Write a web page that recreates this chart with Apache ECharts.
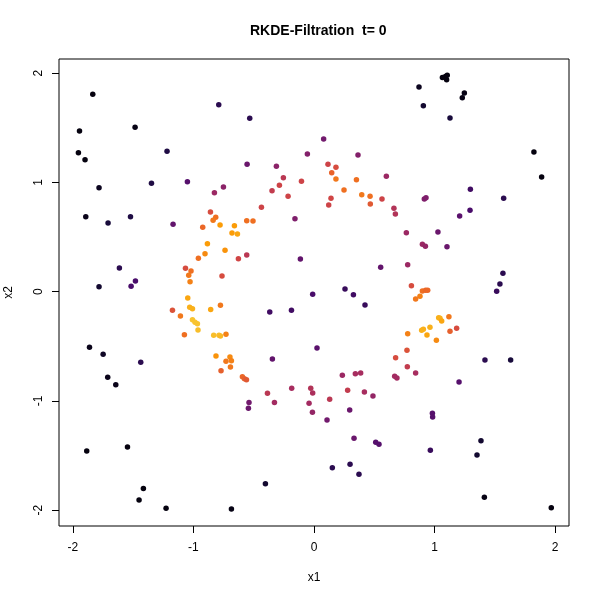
<!DOCTYPE html>
<html>
<head>
<meta charset="utf-8">
<script src="https://cdn.jsdelivr.net/npm/echarts@6/dist/echarts.min.js"></script>
<style>html,body{margin:0;padding:0;background:#fff}#c{width:600px;height:600px}</style>
</head>
<body>
<div id="c"></div>
<script>
// Point coordinates (x1, x2) and estimated density level (0..1, mapped to inferno palette)
const x1 = [
 -1.835,-0.790,-1.945,-1.484,-1.954,-1.899,-1.219,
 -0.533,0.080,-0.055,0.365,-0.555,-0.312,0.116,0.182,0.147,0.600,-0.254,-0.104,0.182,0.352,
 1.065,1.090,1.105,1.100,0.871,1.247,1.230,0.907,1.128,1.824,1.888,
 -1.783,-1.348,-1.050,-0.751,-0.826,-1.893,-1.708,-1.522,-1.169,-0.859,-0.815,-0.837,-0.923,-0.779,-0.660,-0.680,-0.884,-0.904,-0.738,-0.959,-1.614,-1.066,-1.020,-1.039,-0.763,-1.028,-1.481,-1.783,-1.517,-1.047,
 -0.287,-0.348,0.249,-0.215,0.141,0.396,0.465,0.564,0.122,0.467,0.663,0.675,-0.436,-0.158,0.766,-0.558,-0.506,-0.635,-0.627,-0.558,-0.113,0.553,0.777,-0.011,0.257,0.327,
 1.297,1.573,0.915,0.929,1.294,1.208,1.028,0.899,0.924,1.103,1.567,1.542,1.515,0.808,0.899,0.926,0.943,0.879,0.843,
 -0.776,-1.174,-1.031,-1.008,-0.857,-1.108,-1.008,-0.987,-0.967,-0.962,-1.075,-0.832,-0.788,-0.776,-0.730,-1.862,-1.749,-1.437,-1.711,-1.644,-0.813,-0.697,-0.685,-0.730,-0.693,-0.771,
 0.423,-0.367,-0.187,0.777,0.025,-0.345,0.771,0.677,0.774,-0.594,-0.577,-0.560,0.235,0.343,0.387,0.669,0.688,-0.185,-0.027,-0.011,0.279,0.418,0.489,-0.386,0.130,-0.539,-0.328,-0.041,-0.544,-0.013,0.296,0.108,
 1.034,1.045,1.059,1.119,0.893,0.907,0.962,0.937,1.128,1.183,1.015,1.418,1.631,0.843,1.203,0.982,0.984,
 -1.885,-1.547,-1.415,-1.451,-1.227,-0.685,
 0.332,0.512,0.539,0.152,0.299,0.373,-0.403,
 1.385,0.965,1.352,1.413,1.968
];
const x2 = [
 1.806,1.711,1.470,1.504,1.272,1.208,1.285,
 1.586,1.397,1.260,1.251,1.166,1.147,1.166,1.138,1.089,1.056,1.043,1.010,1.031,1.025,
 1.960,1.970,1.980,1.940,1.873,1.818,1.775,1.702,1.589,1.278,1.049,
 0.952,0.992,1.006,0.958,0.906,0.686,0.629,0.686,0.617,0.729,0.681,0.653,0.589,0.610,0.604,0.537,0.439,0.348,0.379,0.305,0.217,0.214,0.189,0.150,0.144,0.092,0.098,0.046,0.049,-0.058,
 0.973,0.924,0.930,0.873,0.854,0.888,0.873,0.848,0.793,0.802,0.763,0.711,0.772,0.668,0.540,0.650,0.647,0.528,0.302,0.336,0.299,0.223,0.247,-0.024,0.025,-0.027,
 0.937,0.854,0.848,0.860,0.745,0.693,0.546,0.434,0.415,0.412,0.168,0.070,0.004,0.055,0.006,0.013,0.013,-0.042,-0.067,
 -0.125,-0.170,-0.143,-0.156,-0.164,-0.222,-0.256,-0.280,-0.293,-0.350,-0.393,-0.399,-0.399,-0.405,-0.390,-0.509,-0.573,-0.646,-0.783,-0.851,-0.588,-0.597,-0.631,-0.637,-0.689,-0.723,
 -0.122,-0.186,-0.170,-0.384,-0.515,-0.616,-0.536,-0.604,-0.686,-0.778,-0.796,-0.805,-0.765,-0.750,-0.744,-0.774,-0.790,-0.884,-0.884,-0.927,-0.902,-0.918,-0.954,-0.930,-0.984,-1.015,-1.015,-1.021,-1.067,-1.103,-1.082,-1.174,
 -0.238,-0.243,-0.268,-0.229,-0.353,-0.344,-0.326,-0.396,-0.362,-0.335,-0.445,-0.625,-0.625,-0.744,-0.826,-1.113,-1.146,
 -1.458,-1.421,-1.802,-1.906,-1.982,-1.988,
 -1.341,-1.378,-1.396,-1.610,-1.579,-1.671,-1.757,
 -1.363,-1.451,-1.494,-1.881,-1.976
];
const level = [
 0.02,0.15,0.02,0.03,0.02,0.02,0.12,
 0.15,0.32,0.36,0.36,0.30,0.38,0.55,0.58,0.65,0.42,0.50,0.55,0.70,0.68,
 0.02,0.02,0.02,0.02,0.05,0.03,0.03,0.08,0.10,0.02,0.02,
 0.05,0.12,0.25,0.38,0.42,0.04,0.10,0.12,0.28,0.58,0.68,0.70,0.66,0.78,0.78,0.78,0.78,0.74,0.76,0.68,0.15,0.58,0.68,0.70,0.58,0.72,0.22,0.08,0.22,0.80,
 0.55,0.52,0.68,0.55,0.56,0.70,0.68,0.55,0.55,0.62,0.48,0.48,0.55,0.35,0.42,0.68,0.68,0.80,0.56,0.50,0.28,0.28,0.42,0.22,0.18,0.20,
 0.20,0.15,0.35,0.35,0.22,0.26,0.30,0.42,0.40,0.30,0.15,0.15,0.18,0.58,0.68,0.66,0.66,0.72,0.70,
 0.70,0.60,0.82,0.82,0.80,0.70,0.86,0.86,0.86,0.85,0.68,0.85,0.85,0.84,0.72,0.04,0.06,0.15,0.04,0.04,0.76,0.74,0.72,0.70,0.70,0.64,
 0.18,0.20,0.20,0.72,0.26,0.28,0.60,0.58,0.52,0.66,0.64,0.62,0.42,0.45,0.45,0.44,0.44,0.45,0.48,0.46,0.52,0.45,0.40,0.50,0.50,0.32,0.44,0.44,0.30,0.40,0.30,0.32,
 0.82,0.82,0.80,0.70,0.82,0.82,0.82,0.80,0.64,0.58,0.74,0.15,0.10,0.45,0.25,0.25,0.25,
 0.02,0.02,0.02,0.02,0.02,0.03,
 0.30,0.25,0.25,0.15,0.15,0.15,0.08,
 0.08,0.18,0.08,0.03,0.02
];
const ticks = [-2, -1, 0, 1, 2];
const inferno = ['#000004','#1b0c41','#4a0c6b','#781c6d','#a52c60','#cf4446','#ed6925','#fb9b06','#f7d13d','#fcffa4'];

const data = x1.map((v, i) => [v, x2[i], level[i]]);
const chart = echarts.init(document.getElementById('c'), null, {renderer: 'canvas'});
const font = 'Liberation Sans, Arial, Helvetica, sans-serif';
chart.setOption({
  animation: false,
  backgroundColor: '#fff',
  title: {
    text: 'RKDE-Filtration  t= 0',
    left: 245, top: 19,
    textStyle: {fontFamily: font, fontWeight: 'bold', fontSize: 14, color: '#000'}
  },
  grid: {left: 59, right: 31, top: 59, bottom: 74, outerBoundsMode: 'none', containLabel: false,
         show: true, borderColor: '#000', borderWidth: 1, backgroundColor: 'transparent'},
  visualMap: {show: false, type: 'continuous', min: 0, max: 1, dimension: 2, inRange: {color: inferno}},
  xAxis: {
    type: 'value', min: -2.115, max: 2.115,
    name: 'x1', nameLocation: 'middle', nameGap: 46,
    nameTextStyle: {fontFamily: font, fontSize: 12, color: '#000'},
    axisLine: {show: false, onZero: false},
    axisTick: {show: true, length: 7, lineStyle: {color: '#000'}, customValues: ticks},
    axisLabel: {fontFamily: font, fontSize: 12, color: '#000', margin: 16, customValues: ticks},
    splitLine: {show: false}
  },
  yAxis: {
    type: 'value', min: -2.144, max: 2.129,
    name: 'x2', nameLocation: 'middle', nameGap: 44,
    nameTextStyle: {fontFamily: font, fontSize: 12, color: '#000'},
    axisLine: {show: false, onZero: false},
    axisTick: {show: true, length: 7, lineStyle: {color: '#000'}, customValues: ticks},
    axisLabel: {fontFamily: font, fontSize: 12, color: '#000', margin: 14, rotate: 90, customValues: ticks},
    splitLine: {show: false}
  },
  series: [{
    type: 'scatter',
    symbol: 'circle',
    symbolSize: 5.5,
    data: data,
    itemStyle: {opacity: 1}
  }]
});
</script>
</body>
</html>
